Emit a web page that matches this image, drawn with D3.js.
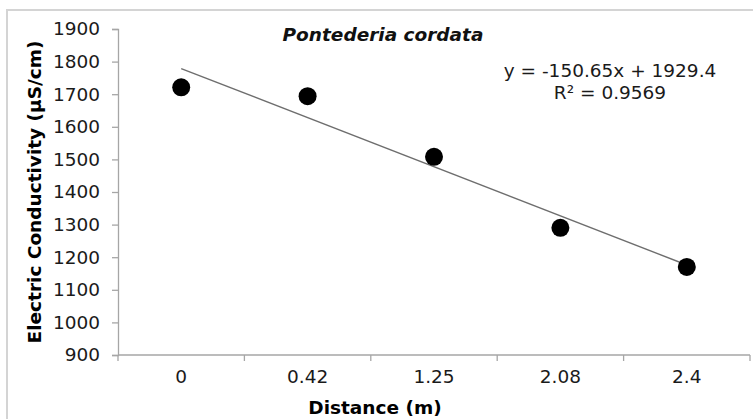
<!DOCTYPE html>
<html>
<head>
<meta charset="utf-8">
<script src="https://cdn.jsdelivr.net/npm/d3@7"></script>
<style>
  body { margin: 0; background: #fff; }
  text { font-family: "DejaVu Sans", Arial, sans-serif; }
</style>
</head>
<body>
<div id="chart"></div>
<script>
// data
const distances = ["0", "0.42", "1.25", "2.08", "2.4"];
const conductivity = [1721, 1694, 1508, 1290, 1170];
const yTicks = [900, 1000, 1100, 1200, 1300, 1400, 1500, 1600, 1700, 1800, 1900];
// excel linear trendline (x = category index 1..5)
const slope = -150.65;
const intercept = 1929.4;
const rSquared = 0.9569;

const width = 753, height = 419;
const margin = {left: 118, right: 3, top: 29, bottom: 64};
const fs = "18.5px";

const svg = d3.select("#chart").append("svg")
    .attr("width", width)
    .attr("height", height);

// outer chart border (only top & left visible in frame)
svg.append("path")
    .attr("d", "M7,430 L7,10 L760,10")
    .attr("fill", "none")
    .attr("stroke", "#d4d4d4")
    .attr("stroke-width", 2);

const x = d3.scaleBand()
    .domain(distances)
    .range([margin.left, width - margin.right]);

const y = d3.scaleLinear()
    .domain([900, 1900])
    .range([height - margin.bottom, margin.top]);

// y axis
const yAxis = svg.append("g")
    .attr("transform", `translate(${margin.left},0)`)
    .call(d3.axisLeft(y).tickValues(yTicks).tickSize(6).tickPadding(12).tickFormat(d3.format("d")));
yAxis.select(".domain").attr("stroke", "#a6a6a6").attr("stroke-width", 1.3);
yAxis.selectAll(".tick line").attr("stroke", "#a6a6a6").attr("stroke-width", 1.3);
yAxis.selectAll(".tick text")
    .attr("fill", "#1a1a1a")
    .style("font-size", fs);

// x axis, ticks at category boundaries
const xAxis = svg.append("g")
    .attr("transform", `translate(0,${y(900)})`)
    .call(d3.axisBottom(x).tickSize(0).tickPadding(15));
xAxis.select(".domain").remove();
xAxis.append("line")
    .attr("x1", margin.left).attr("x2", width - margin.right)
    .attr("stroke", "#a6a6a6").attr("stroke-width", 1.3);
xAxis.selectAll(".bound")
    .data(distances.concat(["end"]))
    .join("line")
    .attr("class", "bound")
    .attr("x1", (d, i) => margin.left + i * x.bandwidth())
    .attr("x2", (d, i) => margin.left + i * x.bandwidth())
    .attr("y1", 0).attr("y2", 6)
    .attr("stroke", "#a6a6a6").attr("stroke-width", 1.3);
xAxis.selectAll(".tick text")
    .attr("fill", "#1a1a1a")
    .style("font-size", fs);

const cx = d => x(d) + x.bandwidth() / 2;

// trendline
svg.append("line")
    .attr("x1", cx(distances[0]))
    .attr("y1", y(slope * 1 + intercept))
    .attr("x2", cx(distances[distances.length - 1]))
    .attr("y2", y(slope * distances.length + intercept))
    .attr("stroke", "#6e6e6e")
    .attr("stroke-width", 1.4);

// points
svg.append("g")
  .selectAll("circle")
  .data(conductivity)
  .join("circle")
    .attr("cx", (d, i) => cx(distances[i]))
    .attr("cy", d => y(d))
    .attr("r", 9)
    .attr("fill", "#000");

// title
svg.append("text")
    .attr("x", 383).attr("y", 41)
    .attr("text-anchor", "middle")
    .style("font-size", fs)
    .style("font-weight", "bold")
    .style("font-style", "italic")
    .attr("fill", "#111")
    .text("Pontederia cordata");

// equation
svg.append("text")
    .attr("x", 610).attr("y", 77)
    .attr("text-anchor", "middle")
    .style("font-size", fs)
    .attr("fill", "#1a1a1a")
    .text(`y = ${slope}x + ${intercept}`);
svg.append("text")
    .attr("x", 610).attr("y", 99)
    .attr("text-anchor", "middle")
    .style("font-size", fs)
    .attr("fill", "#1a1a1a")
    .text(`R² = ${rSquared}`);

// axis titles
svg.append("text")
    .attr("x", 375).attr("y", 414)
    .attr("text-anchor", "middle")
    .style("font-size", fs)
    .style("font-weight", "bold")
    .attr("fill", "#000")
    .text("Distance (m)");

svg.append("text")
    .attr("transform", "translate(41,192) rotate(-90)")
    .attr("text-anchor", "middle")
    .style("font-size", fs)
    .style("font-weight", "bold")
    .attr("fill", "#000")
    .text("Electric Conductivity (µS/cm)");
</script>
</body>
</html>
